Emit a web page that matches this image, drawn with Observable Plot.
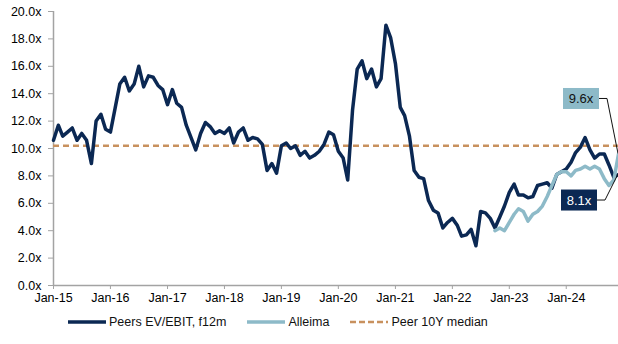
<!DOCTYPE html>
<html><head><meta charset="utf-8">
<script src="https://cdn.jsdelivr.net/npm/d3@7"></script>
<script src="https://cdn.jsdelivr.net/npm/@observablehq/plot@0.6"></script>
<style>
body{margin:0;background:#fff;font-family:"Liberation Sans",Arial,sans-serif;}
#legend{display:flex;align-items:center;height:24px;padding-left:68px;font-size:12.5px;color:#111;}
.item{display:flex;align-items:center;margin-right:21px;}
.item svg{margin-right:3px;}
</style></head><body>
<div id="chart"></div>
<div id="legend"></div>
<script>
// ---- data ----
const seriesNames = ["Peers EV/EBIT, f12m", "Alleima", "Peer 10Y median"];
// monthly, Jan-2015 .. Dec-2024
const peersValues = [
  10.6,11.7,10.9,11.2,11.5,10.6,11.1,10.6,8.9,12.0,
  12.5,11.4,11.2,13.0,14.7,15.2,14.2,14.7,16.0,14.5,
  15.3,15.2,14.6,14.3,13.2,14.3,13.3,13.0,11.7,10.8,
  9.9,11.1,11.9,11.6,11.1,11.3,11.1,11.5,10.4,11.2,
  11.5,10.6,10.8,10.7,10.3,8.4,8.9,8.2,10.2,10.4,
  10.0,10.2,9.5,9.8,9.3,9.5,9.8,10.3,11.2,11.0,
  9.8,9.3,7.7,12.8,15.8,16.4,15.1,15.8,14.5,15.1,
  19.0,18.1,16.2,13.0,12.4,10.9,8.4,7.9,7.8,6.2,
  5.5,5.3,4.2,4.6,4.9,4.4,3.6,3.7,4.1,2.9,
  5.4,5.3,4.9,4.2,5.0,5.8,6.8,7.4,6.6,6.6,
  6.4,6.5,7.3,7.4,7.5,7.1,8.1,8.3,8.5,9.0,
  9.7,10.1,10.8,9.9,9.3,9.6,9.6,8.8,7.9,8.1
];
// monthly, Oct-2022 .. Dec-2024
const alleimaStart = "2022-10-01";
const alleimaValues = [
  4.0,4.2,4.0,4.6,5.2,5.6,5.4,4.7,5.2,5.4,
  5.8,6.5,7.3,8.1,8.3,8.3,8.0,8.4,8.5,8.7,
  8.5,8.7,8.5,7.8,7.3,7.7,9.6
];
const peerMedian = 10.2;
const yTicks = [0,2,4,6,8,10,12,14,16,18,20];
const xTickYears = [2015,2016,2017,2018,2019,2020,2021,2022,2023,2024];
const endLabels = ["9.6x", "8.1x"];

// ---- build ----
const colors = {peers:"#0b2853", alleima:"#8dbac8", median:"#c8915e", axis:"#a3a3a3"};
const start = new Date(Date.UTC(2015,0,1));
const months = peersValues.map((_, i) => d3.utcMonth.offset(start, i));
const peers = peersValues.map((v, i) => ({date: months[i], value: v}));
const aStart = new Date(alleimaStart + "T00:00:00Z");
const alleima = alleimaValues.map((v, i) => ({date: d3.utcMonth.offset(aStart, i), value: v}));
const xTicks = xTickYears.map(y => new Date(Date.UTC(y,0,1)));

const chart = Plot.plot({
  width: 618, height: 310,
  marginLeft: 53, marginRight: 0, marginTop: 11, marginBottom: 25,
  style: {fontFamily: "'Liberation Sans', Arial, sans-serif", fontSize: "12.5px", color: "#000", background: "#fff"},
  x: {type: "utc", domain: [months[0], months[months.length-1]], ticks: xTicks,
      tickFormat: d3.utcFormat("%b-%y"), tickSize: 4, tickPadding: 4, label: null},
  y: {domain: [0, 20], ticks: yTicks, tickFormat: d => d.toFixed(1) + "x",
      tickSize: 5, tickPadding: 7, label: null},
  marks: [
    Plot.ruleY([0], {stroke: colors.axis, strokeWidth: 1.5}),
    Plot.ruleX([months[0]], {stroke: colors.axis, strokeWidth: 1.5}),
    Plot.ruleY([peerMedian], {stroke: colors.median, strokeWidth: 2.5, strokeDasharray: "6,4"}),
    Plot.line(peers, {x: "date", y: "value", stroke: colors.peers, strokeWidth: 3.5}),
    Plot.line(alleima, {x: "date", y: "value", stroke: colors.alleima, strokeWidth: 3.5})
  ]
});
chart.querySelectorAll('[aria-label*="axis"] path, [aria-label*="axis"] line').forEach(e => e.setAttribute("stroke", colors.axis));
document.getElementById("chart").appendChild(chart);

// end-value annotations via the plot's own scales
const sx = chart.scale("x"), sy = chart.scale("y");
const X = d3.scaleUtc(sx.domain, sx.range), Y = d3.scaleLinear(sy.domain, sy.range);
const ann = [
  {pt: alleima[alleima.length-1], text: endLabels[0], fill: colors.alleima, color: "#111", dx: -37, dy: -55},
  {pt: peers[peers.length-1], text: endLabels[1], fill: colors.peers, color: "#fff", dx: -39, dy: 26}
];
const g = d3.select(chart).append("g");
for (const a of ann) {
  const px = X(a.pt.date), py = Y(a.pt.value);
  const cx = px + a.dx, cy = py + a.dy;
  g.append("polyline").attr("points", `${cx+18},${cy} ${cx+26},${cy} ${px},${py}`)
    .attr("fill", "none").attr("stroke", "#111").attr("stroke-width", 1);
  g.append("rect").attr("x", cx-18).attr("y", cy-10.5).attr("width", 36).attr("height", 21).attr("fill", a.fill);
  g.append("text").attr("x", cx).attr("y", cy).attr("dy", "0.35em").attr("text-anchor", "middle")
    .attr("fill", a.color).attr("font-size", 13).text(a.text);
}

// legend
const legend = document.getElementById("legend");
const sw = [
  {c: colors.peers, dash: null, w: 3.5},
  {c: colors.alleima, dash: null, w: 3.5},
  {c: colors.median, dash: "6,3", w: 2.5}
];
seriesNames.forEach((name, i) => {
  const it = document.createElement("div"); it.className = "item";
  it.innerHTML = `<svg width="38" height="8"><line x1="0" x2="38" y1="4" y2="4" stroke="${sw[i].c}" stroke-width="${sw[i].w}" ${sw[i].dash ? `stroke-dasharray="${sw[i].dash}"` : ""}/></svg><span>${name}</span>`;
  legend.appendChild(it);
});
</script>
</body></html>
